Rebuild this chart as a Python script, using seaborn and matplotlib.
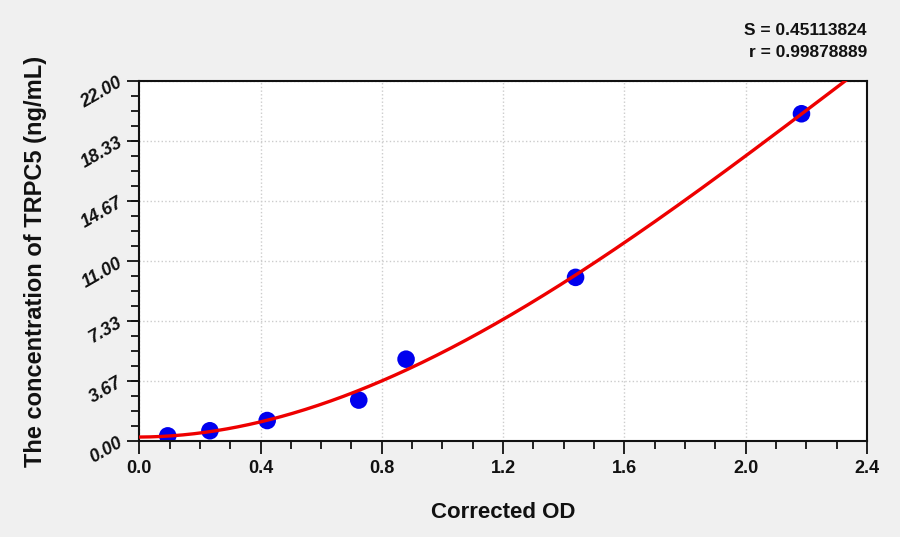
import numpy as np
import pandas as pd
import matplotlib
matplotlib.use("Agg")
import matplotlib.pyplot as plt
import seaborn as sns
from matplotlib.ticker import MultipleLocator, FixedLocator

# ---- data ----
od = [0.094, 0.233, 0.422, 0.724, 0.880, 1.439, 2.184]
conc = [0.3125, 0.625, 1.25, 2.5, 5.0, 10.0, 20.0]
y_ticks = [0.00, 3.67, 7.33, 11.00, 14.67, 18.33, 22.00]
x_ticks = [0.0, 0.4, 0.8, 1.2, 1.6, 2.0, 2.4]
stat_s = "S = 0.45113824"
stat_r = "r = 0.99878889"
x_label = "Corrected OD"
y_label = "The concentration of TRPC5 (ng/mL)"

sns.set_theme(style="white")
plt.rcParams['font.family'] = ['Liberation Sans', 'DejaVu Sans']
plt.rcParams['text.color'] = '#111111'
plt.rcParams['axes.labelcolor'] = '#111111'
plt.rcParams['xtick.color'] = '#111111'
plt.rcParams['ytick.color'] = '#111111'

df = pd.DataFrame({"od": od, "conc": conc})

# cubic least-squares fit of the standards
coef = np.polyfit(df["od"], df["conc"], 3)
xs = np.linspace(0, 2.4, 400)
fit = pd.DataFrame({"od": xs, "conc": np.polyval(coef, xs)})

fig = plt.figure(figsize=(9, 5.37), dpi=100, facecolor="#f0f0f0")
ax = fig.add_axes([0.1547, 0.1788, 0.8086, 0.6703])
ax.set_facecolor("white")

sns.lineplot(data=fit, x="od", y="conc", ax=ax, color="#ee0000", lw=2.4, zorder=3)
sns.scatterplot(data=df, x="od", y="conc", ax=ax, color="#0000ee", s=160,
                edgecolor="none", zorder=2)

ax.set_xlim(0, 2.4)
ax.set_ylim(0, 22)
ax.xaxis.set_major_locator(FixedLocator(x_ticks))
ax.yaxis.set_major_locator(FixedLocator(y_ticks))
ax.xaxis.set_minor_locator(MultipleLocator(0.1))
ax.yaxis.set_minor_locator(MultipleLocator(22 / 24))
ax.set_xticklabels([f"{v:.1f}" for v in x_ticks], fontsize=13, fontweight="bold")
ax.set_yticklabels([f"{v:.2f}" for v in y_ticks], fontsize=13, fontweight="bold",
                   rotation=30, style="italic")
ax.tick_params(axis="both", which="major", length=9, width=1.3, color="#111111",
               direction="out")
ax.tick_params(axis="both", which="minor", length=6, width=1.3, color="#111111",
               direction="out")
ax.tick_params(axis="x", which="major", pad=5)
ax.tick_params(axis="y", which="major", pad=1)
ax.tick_params(axis="x", which="both", bottom=True)
ax.tick_params(axis="y", which="both", left=True)

ax.grid(True, which="major", color="#cccccc", linestyle=":", linewidth=1)
for sp in ax.spines.values():
    sp.set_color("#111111")
    sp.set_linewidth(1.5)

ax.set_xlabel(x_label, fontsize=16, fontweight="bold", labelpad=18)
ax.set_ylabel(y_label, fontsize=17, fontweight="bold", labelpad=10)
ax.yaxis.set_label_coords(-0.127, 0.5)

fig.text(0.9633, 0.944, stat_s, ha="right", va="center", fontsize=12.5,
         fontweight="bold")
fig.text(0.9633, 0.903, stat_r, ha="right", va="center", fontsize=12.5,
         fontweight="bold")

fig.savefig("out.png", dpi=100, facecolor=fig.get_facecolor())
